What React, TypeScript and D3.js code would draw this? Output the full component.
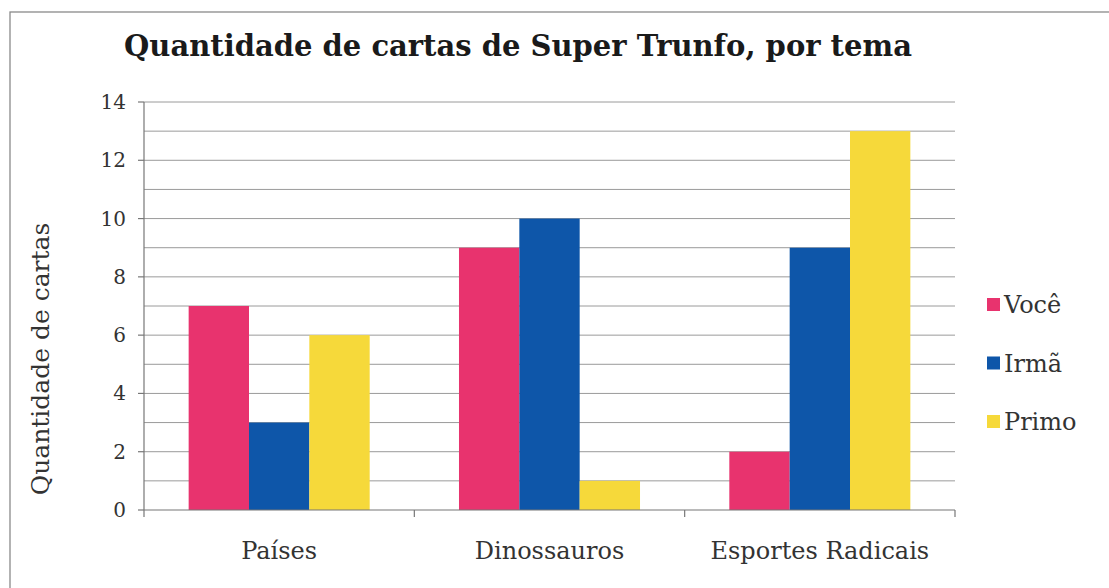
import React from 'react';
import * as d3 from 'd3';

const categories = ['Países', 'Dinossauros', 'Esportes Radicais'];
const seriesNames = ['Você', 'Irmã', 'Primo'];
const voce = [7, 9, 2];
const irma = [3, 10, 9];
const primo = [6, 1, 13];
const seriesColors = ['#e8336e', '#0e56a9', '#f6d93a'];
const yTicks = [0, 2, 4, 6, 8, 10, 12, 14];

const W = 1109;
const H = 588;
const margin = { top: 102, right: 154, bottom: 78, left: 144 };
const serif = '"DejaVu Serif", "Liberation Serif", serif';

const App: React.FC = () => {
  const values = [voce, irma, primo];
  const x = d3.scaleBand<string>()
    .domain(categories)
    .range([margin.left, W - margin.right])
    .paddingInner(0)
    .paddingOuter(0);
  const x1 = d3.scaleBand<string>()
    .domain(seriesNames)
    .range([0, x.bandwidth()])
    .paddingOuter(0.74)
    .paddingInner(0);
  const y = d3.scaleLinear().domain([0, 14]).range([H - margin.bottom, margin.top]);
  const grid = d3.range(1, 15);

  return (
    <svg width={W} height={H} style={{ position: 'absolute', left: 0, top: 0, background: '#fff' }}>
      <rect x={10} y={12} width={W + 5} height={H + 5} fill="#fff" stroke="#8a8a8a" strokeWidth={1.3} />
      <text x={518} y={56} textAnchor="middle" fontFamily={serif} fontWeight="bold" fontSize={29} fill="#1a1a1a">
        Quantidade de cartas de Super Trunfo, por tema
      </text>

      {grid.map(v => (
        <line key={v} x1={margin.left} x2={W - margin.right} y1={y(v)} y2={y(v)} stroke="#9a9a9a" strokeWidth={1} />
      ))}

      {categories.map((c, ci) =>
        seriesNames.map((s, si) => (
          <rect
            key={c + s}
            x={(x(c) || 0) + (x1(s) || 0)}
            y={y(values[si][ci])}
            width={x1.bandwidth()}
            height={y(0) - y(values[si][ci])}
            fill={seriesColors[si]}
          />
        ))
      )}

      {/* axes */}
      <line x1={margin.left} x2={margin.left} y1={margin.top} y2={y(0)} stroke="#777" strokeWidth={1.2} />
      <line x1={margin.left} x2={W - margin.right} y1={y(0)} y2={y(0)} stroke="#777" strokeWidth={1.2} />
      {yTicks.map(t => (
        <g key={t}>
          <line x1={margin.left - 6} x2={margin.left} y1={y(t)} y2={y(t)} stroke="#777" strokeWidth={1.2} />
          <text x={margin.left - 18} y={y(t)} dy="0.35em" textAnchor="end" fontFamily={serif} fontSize={20} fill="#333">
            {t}
          </text>
        </g>
      ))}
      {[...categories.map(c => x(c) || 0), W - margin.right].map((px, i) => (
        <line key={i} x1={px} x2={px} y1={y(0)} y2={y(0) + 7} stroke="#777" strokeWidth={1.2} />
      ))}
      {categories.map(c => (
        <text key={c} x={(x(c) || 0) + x.bandwidth() / 2} y={559} textAnchor="middle" fontFamily={serif} fontSize={24} fill="#333">
          {c}
        </text>
      ))}
      <text
        transform={`translate(49, 359) rotate(-90)`}
        textAnchor="middle"
        fontFamily={serif}
        fontSize={25}
        fill="#333"
      >
        Quantidade de cartas
      </text>

      {/* legend */}
      {seriesNames.map((s, i) => (
        <g key={s} transform={`translate(987, ${304 + i * 58.5})`}>
          <rect x={0} y={-6} width={13} height={13} fill={seriesColors[i]} />
          <text x={17} y={1} dy="0.35em" fontFamily={serif} fontSize={24} fill="#333">
            {s}
          </text>
        </g>
      ))}
    </svg>
  );
};

export default App;
